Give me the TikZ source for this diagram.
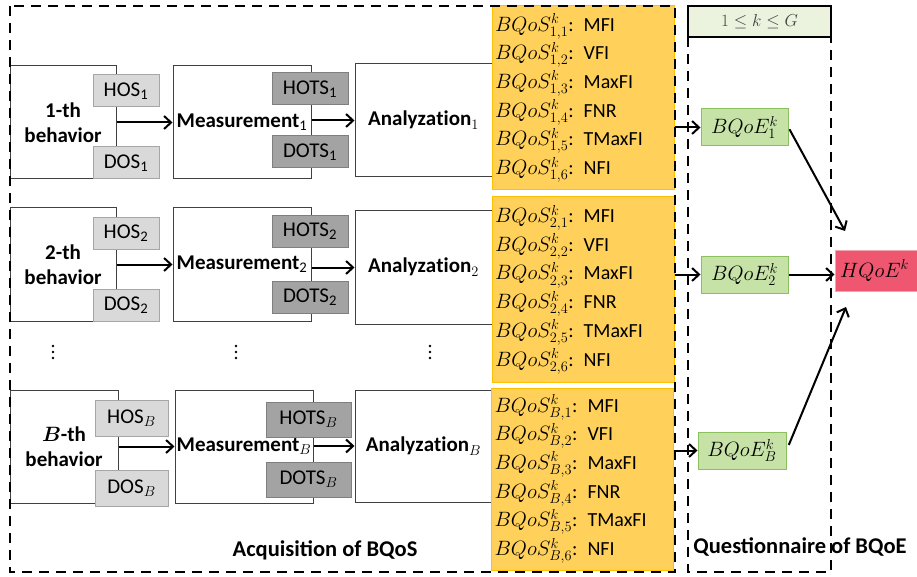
\documentclass[tikz,border=0pt]{standalone}
\usepackage{fontspec}
\usepackage{bm}
\setmainfont{Carlito}
\usetikzlibrary{arrows.meta}
\definecolor{boxline}{HTML}{404040}
\definecolor{hosfill}{HTML}{D9D9D9}
\definecolor{hosline}{HTML}{A6A6A6}
\definecolor{hotsfill}{HTML}{A3A3A3}
\definecolor{hotsline}{HTML}{7F7F7F}
\definecolor{ofill}{HTML}{FFD15A}
\definecolor{oline}{HTML}{FFC000}
\definecolor{gfill}{HTML}{C6E2A6}
\definecolor{gline}{HTML}{8CBF5E}
\definecolor{topfill}{HTML}{EBF3DF}
\definecolor{hfill}{HTML}{EF5670}
\definecolor{hline}{HTML}{F4A3B1}
\newcommand\bqline[2]{{\fontsize{21}{28.7}\selectfont$BQoS^k_{#1}$}: #2}
\begin{document}
\begin{tikzpicture}[x=1pt,y=-1pt,
  blk/.style={draw=boxline, line width=1pt, fill=white, inner sep=0pt,
    font=\bfseries\fontsize{21}{25}\selectfont, align=center, minimum height=113pt},
  lgray/.style={draw=hosline, fill=hosfill, line width=1pt, inner sep=0pt,
    minimum width=66pt, minimum height=32pt, font=\fontsize{21}{25}\selectfont},
  dgray/.style={draw=hotsline, fill=hotsfill, line width=1pt, inner sep=0pt,
    minimum width=76pt, minimum height=32pt, font=\fontsize{21}{25}\selectfont},
  obox/.style={draw=oline, fill=ofill, line width=1pt, minimum width=182pt, inner sep=0pt,
    align=left, text width=176pt, font=\fontsize{20}{28.7}\selectfont},
  gbox/.style={draw=gline, fill=gfill, line width=1pt, minimum width=87pt, minimum height=37pt,
    inner sep=0pt, font=\fontsize{22}{25}\selectfont},
  arr/.style={line width=2pt, -{Straight Barb[length=7pt,width=13pt,line width=2pt]}},
  dsh/.style={line width=2.6pt, dash pattern=on 10pt off 7pt},
  lbl/.style={font=\bfseries\fontsize{22.5}{26}\selectfont, inner sep=0pt},
  dot/.style={fill=black}
]
\useasboundingbox (0,0) rectangle (917,577);

% ---- row 1
\node[blk, minimum width=106pt] (b1) at (63,122.5) {1-th\\behavior};
\node[lgray] (h1) at (126,91) {HOS\textsubscript{1}};
\node[lgray] (d1) at (126,163) {DOS\textsubscript{1}};
\node[blk, minimum width=138pt] (m1) at (242,122.5) {Measurement\textsubscript{\mdseries 1}};
\node[dgray] (ht1) at (310,89) {HOTS\textsubscript{1}};
\node[dgray] (dt1) at (310,152) {DOTS\textsubscript{1}};
\node[blk, minimum width=137pt] (a1) at (423.5,120.5) {$\mathbf{Analyzation}_1$};
\node[obox, minimum height=184pt] (o1) at (583,98) {%
\bqline{1,1}{MFI}\\\bqline{1,2}{VFI}\\\bqline{1,3}{MaxFI}\\%
\bqline{1,4}{FNR}\\\bqline{1,5}{TMaxFI}\\\bqline{1,6}{NFI}};

% ---- row 2
\node[blk, minimum width=106pt] (b2) at (63,264.5) {2-th\\behavior};
\node[lgray] (h2) at (126,233.5) {HOS\textsubscript{2}};
\node[lgray] (d2) at (126,305) {DOS\textsubscript{2}};
\node[blk, minimum width=138pt] (m2) at (242,264.5) {Measurement\textsubscript{\mdseries 2}};
\node[dgray] (ht2) at (310,231.5) {HOTS\textsubscript{2}};
\node[dgray] (dt2) at (310,297) {DOTS\textsubscript{2}};
\node[blk, minimum width=137pt] (a2) at (423.5,267.5) {$\mathbf{Analyzation}_2$};
\node[obox, minimum height=185pt] (o2) at (583,289.5) {%
\bqline{2,1}{MFI}\\\bqline{2,2}{VFI}\\\bqline{2,3}{MaxFI}\\%
\bqline{2,4}{FNR}\\\bqline{2,5}{TMaxFI}\\\bqline{2,6}{NFI}};

% ---- vertical ellipses
\foreach \x in {53,236,430} {
  \foreach \y in {346,352,358} { \fill[dot] (\x,\y) circle (1.4pt); }
}

% ---- row B
\node[blk, minimum width=108pt] (b3) at (64,446.5) {$\bm{B}$-th\\behavior};
\node[lgray, minimum width=73pt, minimum height=36pt] (h3) at (131.5,418) {HOS$_B$};
\node[lgray, minimum width=73pt, minimum height=36pt] (d3) at (131.5,488.5) {DOS$_B$};
\node[blk, minimum width=138pt] (m3) at (244,446.5) {Measurement$_B$};
\node[dgray, minimum width=85pt, minimum height=35pt] (ht3) at (308.5,419.5) {HOTS$_B$};
\node[dgray, minimum width=85pt, minimum height=35pt] (dt3) at (308.5,479.5) {DOTS$_B$};
\node[blk, minimum width=137pt, minimum height=112pt] (a3) at (423.5,446) {$\mathbf{Analyzation}_B$};
\node[obox, minimum height=182pt] (o3) at (582.5,479) {%
\bqline{B,1}{MFI}\\\bqline{B,2}{VFI}\\\bqline{B,3}{MaxFI}\\%
\bqline{B,4}{FNR}\\\bqline{B,5}{TMaxFI}\\\bqline{B,6}{NFI}};

% ---- questionnaire part
\node[draw=black, line width=1.6pt, fill=topfill, minimum width=143pt, minimum height=31pt,
  inner sep=0pt, text=black!75, font=\fontsize{17}{20}\selectfont] (kb) at (759.5,21.5) {$1\le k\le G$};
\node[gbox] (q1) at (744.5,127.5) {$BQoE^k_1$};
\node[gbox] (q2) at (744.5,274.5) {$BQoE^k_2$};
\node[gbox, minimum width=88pt] (q3) at (742,450.5) {$BQoE^k_B$};
\node[draw=hline, fill=hfill, line width=1pt, minimum width=100pt, minimum height=41pt,
  inner sep=0pt, text width=90pt, align=left, font=\fontsize{22}{26}\selectfont] (hq) at (885,270.5) {$HQoE^k$};

% ---- dashed frames
\draw[dsh] (10,6) rectangle (675,572);
\draw[dsh] (688,37) -- (688,572) -- (831,572) -- (831,37);

% ---- labels
\node[lbl] (acq) at (325,550) {Acquisition of BQoS};
\node[lbl] (que) at (800,547) {Questionnaire of BQoE};

% ---- arrows
\draw[arr] (b1) -- (m1);
\draw[arr] (b2) -- (m2);
\draw[arr] (b3) -- (m3);
\draw[arr] (m1.east |- a1.west) -- (a1.west);
\draw[arr] (m2.east |- a2.west) -- (a2.west);
\draw[arr] (m3.east |- a3.west) -- (a3.west);
\draw[arr] (o1.east |- q1.west) -- (q1.west);
\draw[arr] (o2.east |- q2.west) -- (q2.west);
\draw[arr] (o3.east |- q3.west) -- (q3.west);
\coordinate (t1) at (845,231);
\coordinate (t3) at (846,307);
\draw[arr, shorten <=2pt] (q1.east) -- (t1);
\draw[arr] (q2.east) -- (hq.west |- q2.east);
\draw[arr, shorten <=6pt] (q3.east) -- (t3);
\end{tikzpicture}
\end{document}
